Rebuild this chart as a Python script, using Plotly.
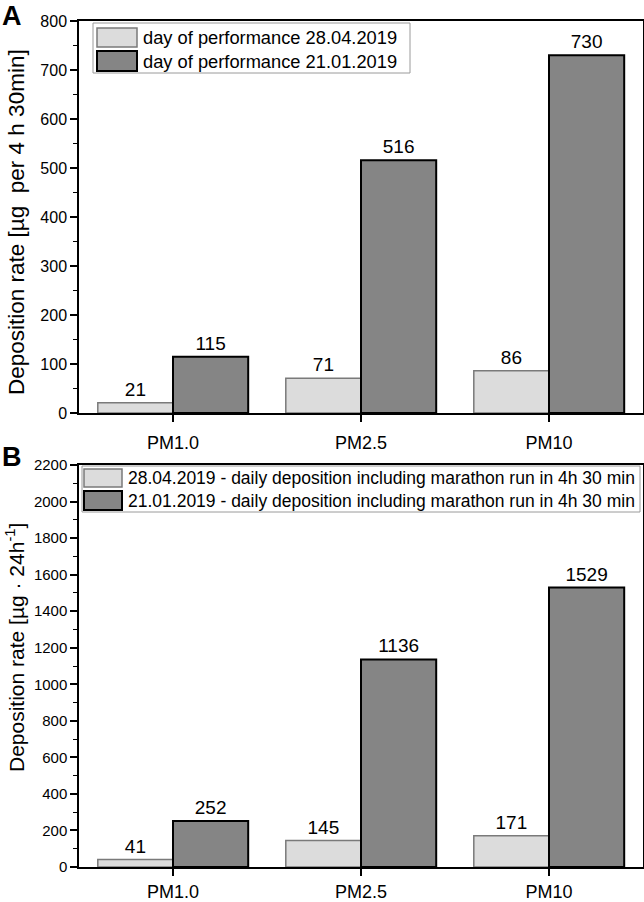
import plotly.graph_objects as go

categories = ["PM1.0", "PM2.5", "PM10"]
a_apr = [21, 71, 86]
a_jan = [115, 516, 730]
b_apr = [41, 145, 171]
b_jan = [252, 1136, 1529]

legend_a = ["day of performance 28.04.2019", "day of performance 21.01.2019"]
legend_b = ["28.04.2019 - daily deposition including marathon run in 4h 30 min",
            "21.01.2019 - daily deposition including marathon run in 4h 30 min"]

W, H = 644, 902
FONT = "Liberation Sans"
LIGHT, LIGHT_LINE = "#dcdcdc", "#7a7a7a"
DARK, DARK_LINE = "#858585", "#000000"


def px(x):
    return x / W


def py(y):
    return 1 - y / H


fig = go.Figure()

def add_bars(vals, color, line, lw, xa, ya, name):
    fig.add_trace(go.Bar(
        x=categories, y=vals, name=name, xaxis=xa, yaxis=ya,
        marker=dict(color=color, line=dict(color=line, width=lw)),
        text=[str(v) for v in vals], textposition="outside",
        textfont=dict(family=FONT, size=19, color="black"),
        cliponaxis=False, showlegend=False))

add_bars(a_apr, LIGHT, LIGHT_LINE, 1.5, "x", "y", "a1")
add_bars(a_jan, DARK, DARK_LINE, 2, "x", "y", "a2")
add_bars(b_apr, LIGHT, LIGHT_LINE, 1.5, "x2", "y2", "b1")
add_bars(b_jan, DARK, DARK_LINE, 2, "x2", "y2", "b2")

xdom = [px(79), px(643)]
xcommon = dict(type="category", range=[-0.5, 2.5], showline=True, linecolor="black",
               linewidth=1.5, mirror=True, ticks="outside", ticklen=7, tickwidth=1.5,
               tickcolor="black", showgrid=False, zeroline=False, automargin=False,
               tickfont=dict(family=FONT, size=18, color="black"), domain=xdom)
ycommon = dict(showline=True, linecolor="black", linewidth=1.5, mirror=True,
               ticks="outside", ticklen=7, tickwidth=1.5, tickcolor="black",
               showgrid=False, zeroline=False, automargin=False)

fig.update_layout(
    width=W, height=H, margin=dict(l=0, r=0, t=0, b=0),
    paper_bgcolor="white", plot_bgcolor="white",
    barmode="group", bargap=0.2, bargroupgap=0,
    showlegend=False,
    font=dict(family=FONT, color="black"),
    xaxis=dict(**xcommon, anchor="y", ticklabelstandoff=6),
    xaxis2=dict(**xcommon, anchor="y2", ticklabelstandoff=1),
    yaxis=dict(**ycommon, range=[0, 800], dtick=100, anchor="x",
               domain=[py(413), py(21)],
               tickfont=dict(family=FONT, size=16, color="black"),
               minor=dict(dtick=50, ticks="outside", ticklen=4, tickwidth=1.2,
                          tickcolor="black", showgrid=False)),
    yaxis2=dict(**ycommon, range=[0, 2200], dtick=200, anchor="x2",
                domain=[py(867), py(465)],
                tickfont=dict(family=FONT, size=15, color="black"),
                minor=dict(dtick=100, ticks="outside", ticklen=4, tickwidth=1.2,
                           tickcolor="black", showgrid=False)),
)

shapes = []
annotations = []

def legend(box, sw_x, rows, text_x, labels, size):
    shapes.append(dict(type="rect", xref="paper", yref="paper",
                       x0=px(box[0]), x1=px(box[1]), y0=py(box[3]), y1=py(box[2]),
                       line=dict(color="#9a9a9a", width=1), fillcolor="white", layer="above"))
    styles = [(LIGHT, LIGHT_LINE, 1.5), (DARK, DARK_LINE, 2)]
    for (y0, y1), lab, (fc, lc, lw) in zip(rows, labels, styles):
        shapes.append(dict(type="rect", xref="paper", yref="paper",
                           x0=px(sw_x[0]), x1=px(sw_x[1]), y0=py(y1), y1=py(y0),
                           line=dict(color=lc, width=lw), fillcolor=fc, layer="above"))
        annotations.append(dict(xref="paper", yref="paper", x=px(text_x), y=py((y0 + y1) / 2),
                                xanchor="left", yanchor="middle", showarrow=False, text=lab,
                                font=dict(family=FONT, size=size, color="black")))

legend((93, 410, 23, 73), (97, 137), [(28, 47), (51, 71)], 141, legend_a, 18.3)
legend((82, 640, 466, 512), (84, 122), [(469, 487), (491, 510)], 126, legend_b, 17.5)

annotations.append(dict(xref="paper", yref="paper", x=px(17), y=py(222), textangle=-90,
                        showarrow=False, xanchor="center", yanchor="middle",
                        text="Deposition rate [µg  per 4 h 30min]",
                        font=dict(family=FONT, size=22.5, color="black")))
annotations.append(dict(xref="paper", yref="paper", x=px(15), y=py(648), textangle=-90,
                        showarrow=False, xanchor="center", yanchor="middle",
                        text="Deposition rate [µg · 24h<sup>-1</sup>]",
                        font=dict(family=FONT, size=21, color="black")))
annotations.append(dict(xref="paper", yref="paper", x=px(0), y=py(16), showarrow=False,
                        xanchor="left", yanchor="middle", text="<b>A</b>",
                        font=dict(family=FONT, size=27, color="black")))
annotations.append(dict(xref="paper", yref="paper", x=px(0), y=py(457), showarrow=False,
                        xanchor="left", yanchor="middle", text="<b>B</b>",
                        font=dict(family=FONT, size=27, color="black")))

fig.update_layout(shapes=shapes, annotations=annotations)
fig.write_html("out.html", config={"displayModeBar": False},
               post_script="document.body.style.margin='0px';document.body.style.overflow='hidden';")
